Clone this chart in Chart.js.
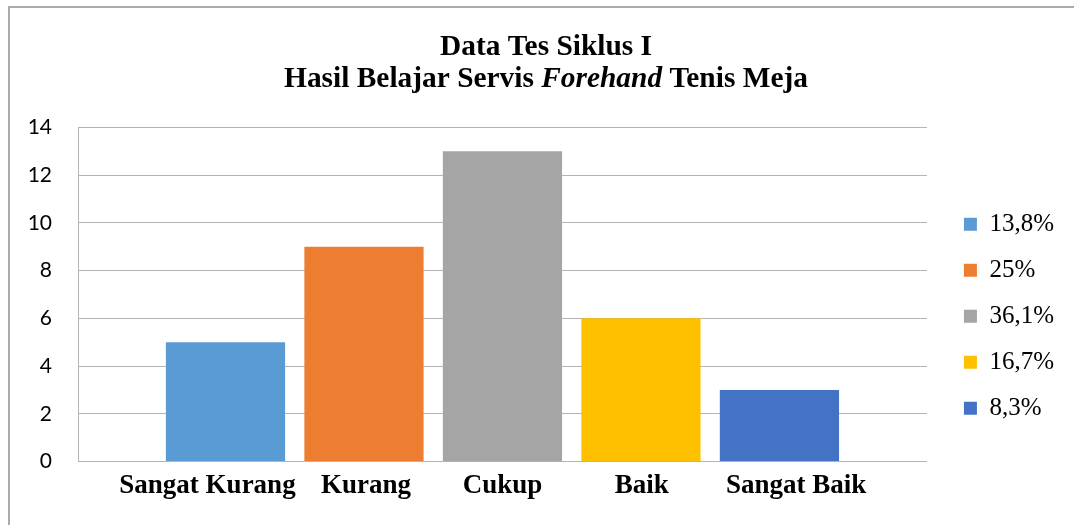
<!DOCTYPE html>
<html><head><meta charset="utf-8">
<script src="https://cdn.jsdelivr.net/npm/chart.js@4.4.1/dist/chart.umd.min.js"></script>
<style>
html,body{margin:0;padding:0;background:#fff;}
#wrap{position:relative;width:1074px;height:525px;overflow:hidden;background:#fff;}
#frame{position:absolute;left:8px;top:6px;width:1200px;height:700px;border-left:2px solid #ababab;border-top:2px solid #ababab;}
canvas{position:absolute;left:0;top:0;}
</style></head><body>
<div id="wrap"><div id="frame"></div><canvas id="c" width="1074" height="525"></canvas></div>
<script>
const categories = ['Sangat Kurang', 'Kurang', 'Cukup', 'Baik', 'Sangat Baik'];
const counts = [5, 9, 13, 6, 3];
const percentLabels = ['13,8%', '25%', '36,1%', '16,7%', '8,3%'];
const barColors = ['#5B9BD5', '#ED7D31', '#A5A5A5', '#FFC000', '#4472C4'];
const yTicks = [0, 2, 4, 6, 8, 10, 12, 14];
const titleLine1 = 'Data Tes Siklus I';
const titleLine2 = [['Hasil Belajar Servis ', false], ['Forehand', true], [' Tenis Meja', false]];

const SERIF = '"Liberation Serif", "Times New Roman", serif';
const GRID = '#b4b4b4';

const titlePlugin = {
  id: 'mixedTitle',
  afterDraw(chart) {
    const ctx = chart.ctx;
    const cx = 546;
    ctx.save();
    ctx.fillStyle = '#000';
    ctx.textBaseline = 'alphabetic';
    ctx.textAlign = 'center';
    ctx.font = 'bold 29.4px ' + SERIF;
    ctx.fillText(titleLine1, cx, 55);
    const fonts = titleLine2.map(p => (p[1] ? 'italic ' : '') + 'bold 29.4px ' + SERIF);
    const widths = titleLine2.map((p, i) => { ctx.font = fonts[i]; return ctx.measureText(p[0]).width; });
    const total = widths.reduce((a, b) => a + b, 0);
    let x = cx - total / 2;
    ctx.textAlign = 'left';
    titleLine2.forEach((p, i) => { ctx.font = fonts[i]; ctx.fillText(p[0], x, 87); x += widths[i]; });
    ctx.restore();
  }
};

const datasets = categories.map((c, i) => ({
  label: percentLabels[i],
  data: [{ x: i, y: counts[i] }],
  backgroundColor: barColors[i],
  borderWidth: 0,
  grouped: false,
  barPercentage: 0.874,
  categoryPercentage: 1
}));

// small horizontal nudges of the category labels (layout only, in category units)
const labelNudge = [-0.13, 0.015, 0, 0.006, 0.12];

new Chart(document.getElementById('c'), {
  type: 'bar',
  data: { datasets },
  plugins: [titlePlugin],
  options: {
    responsive: false,
    animation: false,
    devicePixelRatio: 1,
    layout: { padding: { top: 127.5, bottom: 20, left: 10, right: 10 } },
    plugins: {
      title: { display: false },
      tooltip: { enabled: false },
      legend: {
        position: 'right',
        align: 'center',
        labels: {
          boxWidth: 13, boxHeight: 13, padding: 21, color: '#000',
          font: { family: SERIF, size: 25 }
        }
      }
    },
    scales: {
      x: {
        type: 'linear',
        offset: false,
        min: -1.065, max: 5.065,
        grid: { display: false, drawTicks: false, offset: false },
        border: { display: false },
        afterBuildTicks: s => { s.ticks = categories.map((c, i) => ({ value: i + labelNudge[i], label: c })); },
        afterFit: s => { s.height = 43.5; },
        ticks: {
          autoSkip: false, maxRotation: 0, padding: 8, color: '#000',
          font: { family: SERIF, size: 27, weight: 'bold' },
          callback: (v, i) => categories[i]
        }
      },
      y: {
        min: 0, max: 14,
        afterBuildTicks: s => { s.ticks = yTicks.map(v => ({ value: v })); },
        afterFit: s => { s.width = 68; },
        grid: { color: GRID, drawTicks: false, lineWidth: 1 },
        border: { display: true, color: GRID, width: 1 },
        ticks: { padding: 26, color: '#000', font: { family: 'Lato', size: 21 } }
      },
      gap: {
        type: 'linear', position: 'right', display: true,
        grid: { display: false, drawTicks: false },
        border: { display: false },
        ticks: { display: false },
        afterFit: s => { s.width = 16; }
      }
    }
  }
});
</script>
</body></html>
